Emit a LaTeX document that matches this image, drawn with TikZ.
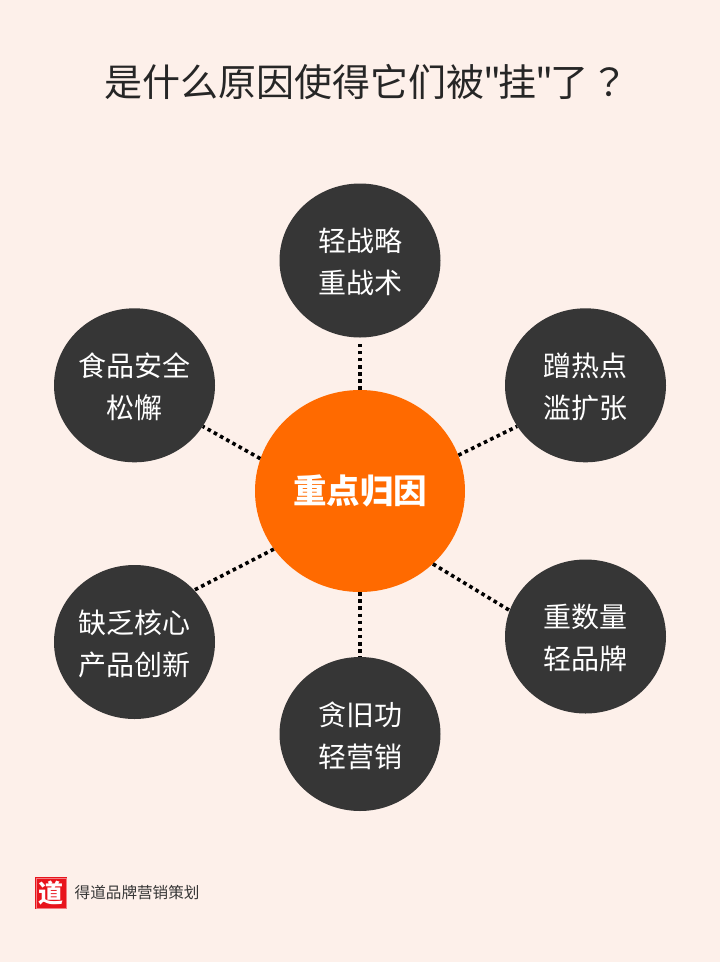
\documentclass[tikz,border=0pt]{standalone}
\usepackage{fontspec}
\usepackage{xcolor}
\usetikzlibrary{calc, positioning, shapes.geometric}
\setmainfont{Noto Sans CJK SC}
\newfontfamily\titlefont{Noto Sans CJK SC}
\newfontfamily\puncfont{Noto Sans CJK TC}
\definecolor{pagebg}{HTML}{FDF0EA}
\definecolor{darkgrey}{HTML}{363636}
\definecolor{inkcol}{HTML}{262626}
\definecolor{hubcol}{HTML}{FF6A00}
\definecolor{sealred}{HTML}{E8141C}
\tikzset{
    cause/.style={ellipse, fill=darkgrey, text=white, minimum width=161pt, minimum height=154pt,
        inner sep=0pt, align=center, font=\fontsize{28}{42}\selectfont},
    hub/.style={ellipse, fill=hubcol, text=white, minimum width=210pt, minimum height=202pt,
        inner sep=0pt, font=\fontsize{33.5}{40}\selectfont\bfseries},
    link/.style={line width=3.6pt, dash pattern=on 3.6pt off 3.5pt, black},
}
\newcommand{\drawC}[4]{
    \node[cause] (#3) at (#1,#2) {\rule{0pt}{27pt}#4};
}
\newcommand{\drawE}[3]{
    \draw[link] (#1) -- (#2.#3);
}
\begin{document}
\begin{tikzpicture}[x=1pt, y=-1pt]
        \fill[pagebg] (0,0) rectangle (720,962);
        \useasboundingbox (0,0) rectangle (720,962);
        \node[anchor=west, inner sep=0pt, text=inkcol, font=\fontsize{38}{42}\selectfont\titlefont] (title) at (104,82)
            {是什么原因使得它们被\kern-1pt"\kern-3pt 挂\kern-1pt"\kern-3pt 了\kern2pt{\puncfont ？}};
        \node[hub] (center) at (360,491) {重点归因};
        \drawC{360}{260.5}{strategy}{轻战略\\重战术}
        \drawC{585.5}{385.3}{hotspot}{蹭热点\\滥扩张}
        \drawC{585.5}{636.5}{quantity}{重数量\\轻品牌}
        \drawC{360}{734}{legacy}{贪旧功\\轻营销}
        \drawC{134.5}{642}{product}{缺乏核心\\产品创新}
        \drawC{134.5}{385.3}{safety}{食品安全\\松懈}
        % Dotted links
        \draw[link, shorten >=6pt] (center.90) -- (strategy.270);
        \drawE{center.20}{hotspot}{211}
        \drawE{center.-45.4}{quantity}{161}
        \draw[link] (center.270) -- (legacy.90);
        \drawE{center.214.6}{product}{41}
        \drawE{center.162.4}{safety}{-31.5}
        % Footer
        \node[fill=sealred, draw=sealred, double=sealred!55!white, double distance=0.5pt, line width=1pt,
            text=white, minimum size=30pt, inner sep=0pt, font=\fontsize{25}{25}\selectfont\bfseries] (seal) at (51,893) {道};
        \node[right=8pt of seal, inner sep=0pt, text=darkgrey, font=\fontsize{15.6}{18}\selectfont] (brand) {得道品牌营销策划};
\end{tikzpicture}
\end{document}
